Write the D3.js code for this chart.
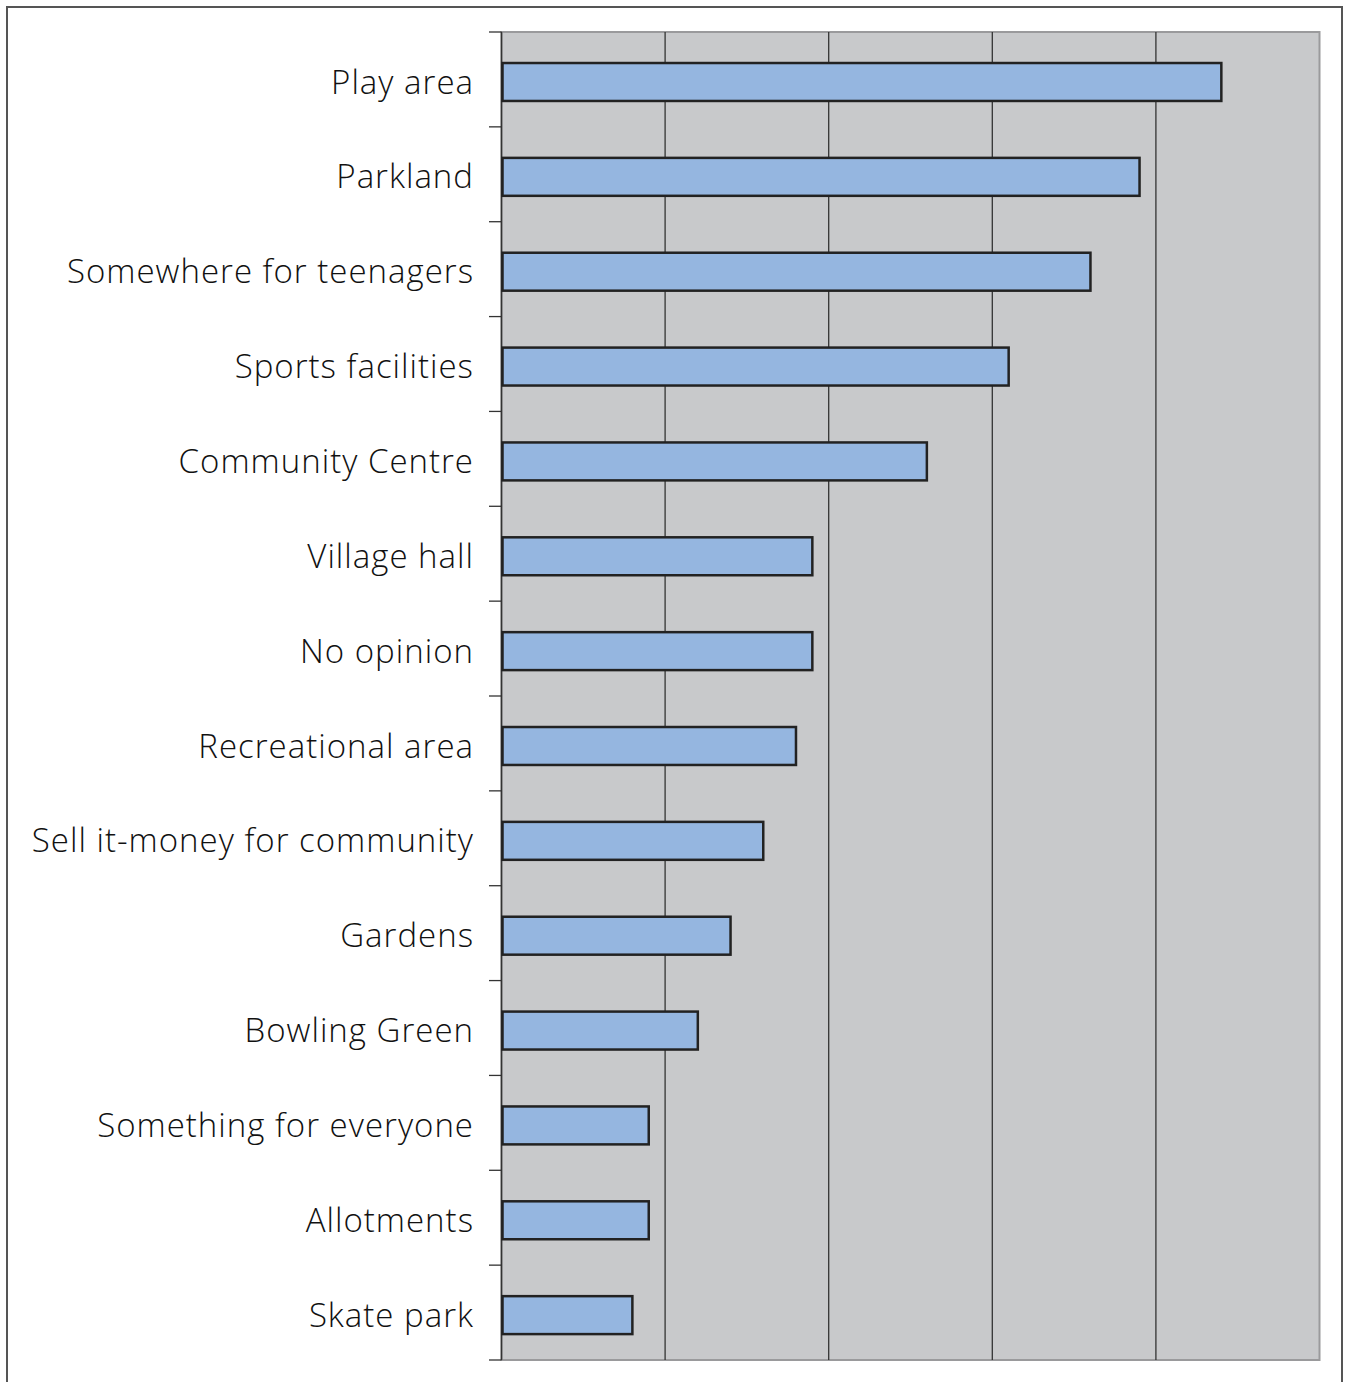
<!DOCTYPE html>
<html><head><meta charset="utf-8">
<script src="https://cdn.jsdelivr.net/npm/d3@7"></script>
<style>html,body{margin:0;padding:0;background:#fff;}</style>
</head><body>
<script>
const categories = ["Play area","Parkland","Somewhere for teenagers","Sports facilities","Community Centre","Village hall","No opinion","Recreational area","Sell it-money for community","Gardens","Bowling Green","Something for everyone","Allotments","Skate park"];
const values = [44,39,36,31,26,19,19,18,16,14,12,9,9,8];
const xTicks = [0,10,20,30,40,50];

const W = 1348, H = 1382;
const svg = d3.select("body").append("svg").attr("width", W).attr("height", H);

// outer frame
svg.append("path").attr("d", `M7,${H} V7 H1342 V${H}`).attr("fill","none").attr("stroke","#555").attr("stroke-width",2);

const pL = 501.5, pR = 1319.5, pT = 32, pB = 1360;
const x = d3.scaleLinear().domain([0,50]).range([pL, pR]);
const y = d3.scaleBand().domain(categories).range([pT, pB]).paddingInner(0.6).paddingOuter(0.3).align(0.545);

svg.append("rect").attr("x", pL).attr("y", pT).attr("width", pR-pL).attr("height", pB-pT)
  .attr("fill","#c8c9cb").attr("stroke","#9a9a9c").attr("stroke-width",2);

svg.append("g").selectAll("line").data(xTicks.slice(1,-1)).join("line")
  .attr("x1", d=>x(d)).attr("x2", d=>x(d)).attr("y1", pT).attr("y2", pB)
  .attr("stroke","#333").attr("stroke-width",1.3);

// left axis with boundary ticks
const yb = d3.scaleLinear().domain([0, categories.length]).range([pT, pB]);
const g = svg.append("g");
g.append("line").attr("x1",pL).attr("x2",pL).attr("y1",pT).attr("y2",pB).attr("stroke","#333").attr("stroke-width",1.5);
g.selectAll("line.t").data(d3.range(categories.length+1)).join("line").attr("class","t")
  .attr("x1",489).attr("x2",pL).attr("y1",d=>yb(d)).attr("y2",d=>yb(d)).attr("stroke","#333").attr("stroke-width",1.3);

svg.append("g").selectAll("rect").data(categories).join("rect")
  .attr("x", x(0)+1).attr("y", d=>y(d)).attr("height", y.bandwidth())
  .attr("width", (d,i)=>x(values[i])-x(0)-1)
  .attr("fill","#95b6e0").attr("stroke","#222").attr("stroke-width",2.5);

svg.append("g").selectAll("text").data(categories).join("text")
  .attr("x", 474).attr("y", d=>y(d)+y.bandwidth()/2).attr("dy","0.35em")
  .attr("text-anchor","end").attr("font-family","Open Sans, sans-serif").attr("font-size",33)
  .attr("font-weight",300).attr("letter-spacing",1.0)
  .attr("fill","#111").text(d=>d);
</script>
</body></html>
